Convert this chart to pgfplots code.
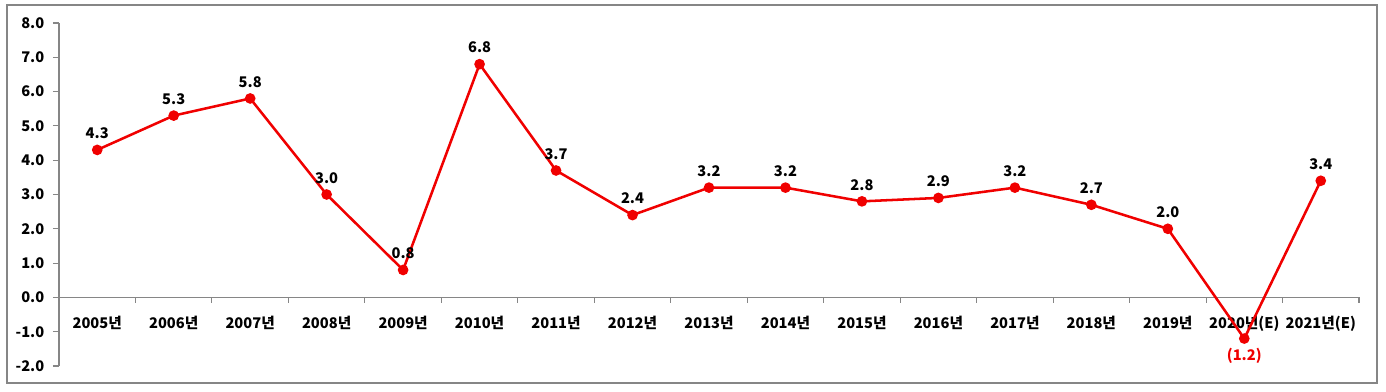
\documentclass[border=0pt]{standalone}
\usepackage{pgfplots}
\pgfplotsset{compat=1.18}
\usepackage{fontspec}
\setmainfont{Noto Sans CJK KR}
\definecolor{axisgray}{RGB}{134,134,134}
\definecolor{linered}{RGB}{240,0,0}
\newcommand{\lblfont}{\fontsize{11}{13}\selectfont\bfseries}
\begin{document}
\begin{tikzpicture}
\begin{axis}[
  scale only axis, width=975pt, height=257.25pt,
  xmin=-0.5, xmax=16.5, ymin=-2, ymax=8,
  axis x line=middle, axis y line=left,
  axis line style={-, draw=axisgray, line width=0.8pt},
  xtick={0,...,16},
  xticklabels={2005년,2006년,2007년,2008년,2009년,2010년,2011년,2012년,2013년,2014년,2015년,2016년,2017년,2018년,2019년,2020년(E),2021년(E)},
  x tick style={draw=none},
  x tick label style={font=\lblfont, anchor=north, yshift=-6pt},
  ytick={-2,-1,0,1,2,3,4,5,6,7,8},
  yticklabels={-2.0,-1.0,0.0,1.0,2.0,3.0,4.0,5.0,6.0,7.0,8.0},
  y tick style={draw=axisgray, line width=0.8pt},
  tick align=outside, major tick length=4.5pt,
  y tick label style={font=\lblfont, xshift=-3pt},
  clip=false,
]
\pgfplotsinvokeforeach{-0.5,0.5,...,16.5}{
  \draw[axisgray, line width=0.8pt] (axis cs:#1,0) -- ++(0pt,-4.5pt);
}
\addplot[linered, line width=1.9pt, mark=*, mark size=3pt,
  mark options={fill=linered, draw=linered},
  point meta=explicit symbolic,
  nodes near coords,
  every node near coord/.append style={font=\lblfont, text=black, anchor=south, yshift=4pt}]
  coordinates {
  (0,4.3) [4.3]
  (1,5.3) [5.3]
  (2,5.8) [5.8]
  (3,3.0) [3.0]
  (4,0.8) [0.8]
  (5,6.8) [6.8]
  (6,3.7) [3.7]
  (7,2.4) [2.4]
  (8,3.2) [3.2]
  (9,3.2) [3.2]
  (10,2.8) [2.8]
  (11,2.9) [2.9]
  (12,3.2) [3.2]
  (13,2.7) [2.7]
  (14,2.0) [2.0]
  (15,-1.2) []
  (16,3.4) [3.4]
  };
\addplot[draw=none, mark=none,
  point meta=explicit symbolic,
  nodes near coords,
  every node near coord/.append style={font=\lblfont, text=linered, anchor=north, yshift=-4pt}]
  coordinates {(15,-1.2) [(1.2)]};
\coordinate (ll) at (rel axis cs:0,0);
\coordinate (ur) at (rel axis cs:1,1);
\end{axis}
\path ([shift={(-44.25pt,-19.5pt)}]ll) rectangle ([shift={(20.25pt,17.25pt)}]ur);
\draw[axisgray, line width=0.9pt] ([shift={(-39pt,-12.75pt)}]ll) rectangle ([shift={(13.5pt,13.5pt)}]ur);
\end{tikzpicture}
\end{document}
